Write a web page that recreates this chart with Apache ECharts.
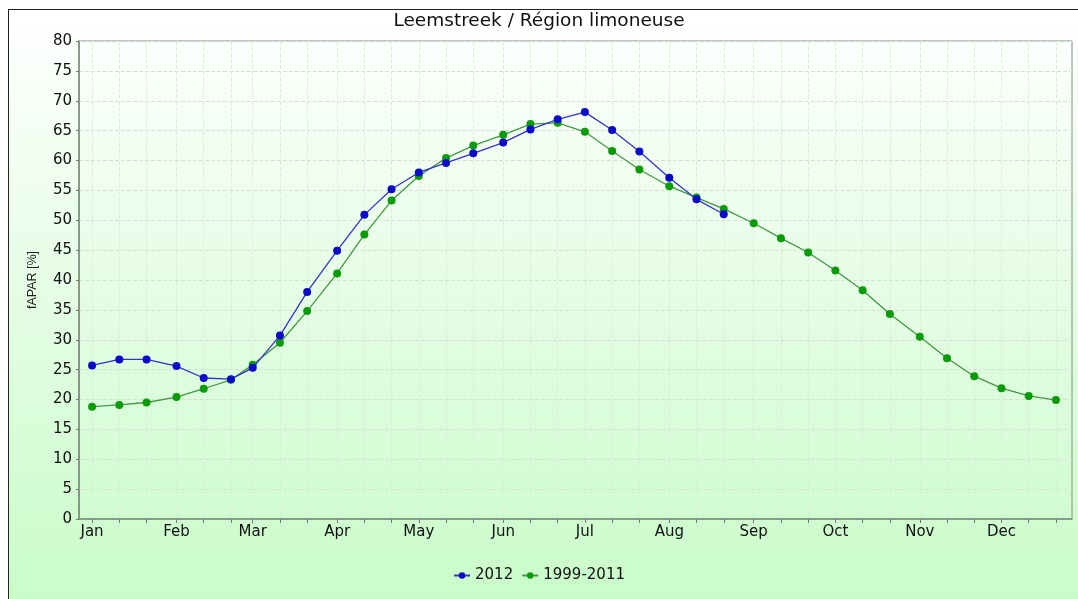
<!DOCTYPE html>
<html>
<head>
<meta charset="utf-8">
<script src="https://cdn.jsdelivr.net/npm/echarts@6/dist/echarts.min.js"></script>
<style>
  html, body { margin: 0; padding: 0; background: #ffffff; }
  #frame { position: absolute; left: 8px; top: 9px; width: 1078px; height: 600px;
           border-left: 1px solid #222; border-top: 1px solid #222;
           background: linear-gradient(to bottom, #ffffff 0%, #e6fde6 45%, #c8fcc8 100%); }
  #chart { position: absolute; left: 0; top: 0; width: 1078px; height: 599px; }
</style>
</head>
<body>
<div id="frame"></div>
<div id="chart"></div>
<script>
// Month names and the day-of-year of each month's first day
const months = ['Jan','Feb','Mar','Apr','May','Jun','Jul','Aug','Sep','Oct','Nov','Dec'];
const monthStartDays = [1, 32, 60, 91, 121, 152, 182, 213, 244, 274, 305, 335];
// Dekads: 1st, 11th and 21st of each month
const dekadOffsets = [0, 10, 20];
const dekadDays = [];
monthStartDays.forEach(s => dekadOffsets.forEach(o => dekadDays.push(s + o)));

const yTicks = [0, 5, 10, 15, 20, 25, 30, 35, 40, 45, 50, 55, 60, 65, 70, 75, 80];

// fAPAR [%] 2012 (Jan 1 .. Aug 21)
const values2012 = [25.7, 26.7, 26.7, 25.6, 23.6, 23.4, 25.3, 30.7, 38.0, 44.9, 50.9, 55.2,
                    58.0, 59.6, 61.2, 63.0, 65.2, 66.9, 68.1, 65.1, 61.5, 57.1, 53.5, 51.0];
// fAPAR [%] mean 1999-2011 (Jan 1 .. Dec 21)
const valuesMean = [18.8, 19.1, 19.5, 20.4, 21.8, 23.3, 25.8, 29.5, 34.8, 41.1, 47.6, 53.3,
                    57.4, 60.4, 62.5, 64.3, 66.1, 66.3, 64.8, 61.6, 58.5, 55.7, 53.8, 51.9,
                    49.5, 47.0, 44.6, 41.6, 38.3, 34.3, 30.5, 26.9, 23.9, 21.9, 20.6, 19.9];

const seriesNames = ['2012', '1999-2011'];
const blue = '#0a0ac8', blueLine = '#3434c4';
const green = '#0a9a0a', greenLine = '#449844';

const chart = echarts.init(document.getElementById('chart'), null, { renderer: 'canvas' });
const font = 'DejaVu Sans';
chart.setOption({
  backgroundColor: 'transparent',
  animation: false,
  title: {
    text: 'Leemstreek / Région limoneuse',
    left: 'center', top: 7,
    textStyle: { fontFamily: font, fontSize: 18.5, fontWeight: 'normal', color: '#111' }
  },
  legend: {
    bottom: 11, left: 'center',
    itemWidth: 16, itemHeight: 8, itemGap: 8,
    textStyle: { fontFamily: font, fontSize: 15, color: '#111' },
    data: seriesNames
  },
  grid: {
    left: 79, right: 6, top: 41, bottom: 80,
    show: true, borderColor: '#8a8a8a', borderWidth: 1, backgroundColor: 'transparent'
  },
  xAxis: {
    type: 'value',
    min: -3.8, max: 360.9,
    axisLine: { show: true, onZero: false, lineStyle: { color: '#7a8a7a', width: 1.5 } },
    axisTick: { show: true, length: 4, customValues: dekadDays, lineStyle: { color: '#777' } },
    axisLabel: {
      customValues: monthStartDays,
      margin: 6,
      fontFamily: font, fontSize: 15, color: '#111',
      formatter: v => months[monthStartDays.indexOf(v)] || ''
    },
    splitLine: { show: true, lineStyle: { color: '#dcecdc', type: 'dashed', width: 1 } }
  },
  yAxis: {
    type: 'value',
    min: 0, max: 80, interval: 5,
    name: 'fAPAR [%]',
    nameLocation: 'middle', nameRotate: 90, nameGap: 40,
    nameTextStyle: { fontFamily: 'Liberation Sans', fontSize: 12.5, color: '#222' },
    axisLine: { show: true, onZero: false, lineStyle: { color: '#7a8a7a', width: 1.5 } },
    axisTick: { show: true, length: 3, lineStyle: { color: '#777' } },
    axisLabel: { margin: 7, fontFamily: font, fontSize: 15, color: '#111',
                 formatter: v => yTicks.includes(v) ? String(v) : '' },
    splitLine: { show: true, lineStyle: { color: '#d4e2d4', type: 'dashed', width: 1 } }
  },
  series: [
    {
      name: seriesNames[0], type: 'line',
      data: values2012.map((v, i) => [dekadDays[i], v]),
      symbol: 'circle', symbolSize: 8,
      itemStyle: { color: blue },
      lineStyle: { color: blueLine, width: 1.3 },
      z: 3
    },
    {
      name: seriesNames[1], type: 'line',
      data: valuesMean.map((v, i) => [dekadDays[i], v]),
      symbol: 'circle', symbolSize: 8,
      itemStyle: { color: green },
      lineStyle: { color: greenLine, width: 1.3 },
      z: 2
    }
  ]
});
</script>
</body>
</html>
